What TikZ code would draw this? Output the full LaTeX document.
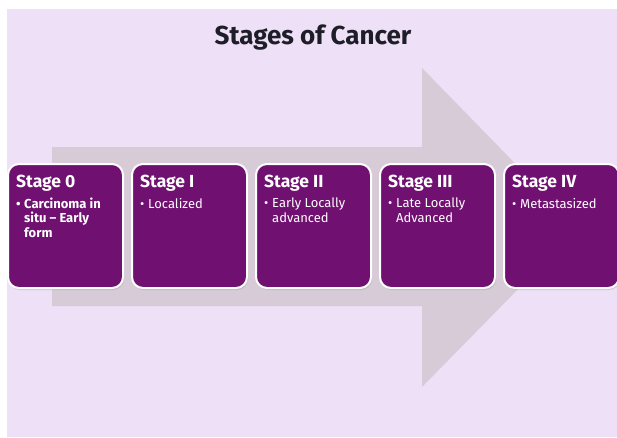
\documentclass[tikz,border=0pt]{standalone}
\usepackage{fontspec}
\setmainfont{Fira Sans}
\usetikzlibrary{positioning,shadows}

\definecolor{bgcol}{RGB}{238,224,246}
\definecolor{arrowcol}{RGB}{214,203,214}
\definecolor{stagecol}{RGB}{112,16,112}
\definecolor{titlecol}{RGB}{30,30,40}

\newcommand{\stagebullet}[1]{\makebox[8pt][l]{\textbullet}%
  \parbox[t]{86pt}{\raggedright\hyphenpenalty=10000 #1}}

\begin{document}
\begin{tikzpicture}[x=1pt, y=1pt, line join=bevel,
    stagebox/.style={rectangle, rounded corners=11pt, fill=stagecol, draw=white,
      line width=2pt, minimum width=115pt, minimum height=124pt, inner sep=0pt,
      drop shadow={opacity=0.25, shadow xshift=1pt, shadow yshift=-2pt}},
    stagehead/.style={anchor=north west, text=white, inner sep=0pt,
      font=\bfseries\fontsize{17.5}{20}\selectfont},
    stageitem/.style={anchor=north west, text=white, inner sep=0pt,
      font=\fontsize{13}{14.5}\selectfont}]
  %%
  \useasboundingbox (0,0) rectangle (617,437);
  % Background
  \fill[bgcol] (7,0) rectangle (617,428);
  % Big arrow
  \fill[arrowcol] (52,131) -- (52,290) -- (422,290) -- (422,369)
    -- (578,209) -- (422,50) -- (422,131) -- cycle;
  % Title
  \node (title) at (313,399) [text=titlecol, font=\bfseries\fontsize{26}{30}\selectfont]
    {Stages of Cancer};
  %
  % Node: stage boxes
  \node[stagebox] (stage0) at (65.5,211) {};
  \node[stagebox, right=7pt of stage0] (stage1) {};
  \node[stagebox, right=7pt of stage1] (stage2) {};
  \node[stagebox, right=7pt of stage2] (stage3) {};
  \node[stagebox, right=7pt of stage3] (stage4) {};
  %
  % Node: headings
  \node[stagehead] (head0) at ([xshift=9pt, yshift=-12pt]stage0.north west) {Stage 0};
  \node[stagehead] (head1) at ([xshift=9pt, yshift=-12pt]stage1.north west) {Stage I};
  \node[stagehead] (head2) at ([xshift=9pt, yshift=-12pt]stage2.north west) {Stage II};
  \node[stagehead] (head3) at ([xshift=9pt, yshift=-12pt]stage3.north west) {Stage III};
  \node[stagehead] (head4) at ([xshift=9pt, yshift=-12pt]stage4.north west) {Stage IV};
  %
  % Node: bullet items
  \node[stageitem, below=6pt of head0.south west, anchor=north west,
    font=\bfseries\fontsize{13}{14.5}\selectfont] (item0)
    {\stagebullet{Carcinoma in situ -- Early form}};
  \node[stageitem, below=6pt of head1.south west, anchor=north west] (item1)
    {\stagebullet{Localized}};
  \node[stageitem, below=6pt of head2.south west, anchor=north west] (item2)
    {\stagebullet{Early Locally advanced}};
  \node[stageitem, below=6pt of head3.south west, anchor=north west] (item3)
    {\stagebullet{Late Locally Advanced}};
  \node[stageitem, below=6pt of head4.south west, anchor=north west] (item4)
    {\stagebullet{Metastasized}};
  %
\end{tikzpicture}
\end{document}
